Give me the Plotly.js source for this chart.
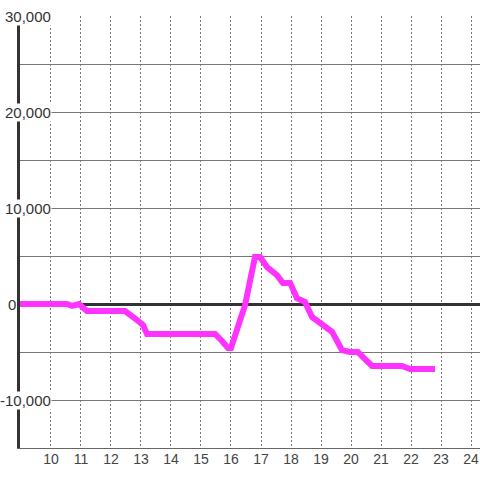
<!DOCTYPE html>
<html>
<head>
<meta charset="utf-8">
<script src="https://cdn.plot.ly/plotly-3.0.1.min.js"></script>
<style>html,body{margin:0;padding:0;background:#fff;}#chart{width:480px;height:480px;}</style>
</head>
<body>
<div id="chart"></div>
<script>
// Hours of day (decimal) and cumulative values
const hours = [8.9, 10.53, 10.7, 10.93, 11.2, 12.47, 12.87, 13.07, 13.2, 15.47, 15.7, 15.9, 16.0, 16.47, 16.8, 16.97, 17.2, 17.53, 17.73, 17.97, 18.2, 18.47, 18.7, 18.97, 19.37, 19.7, 19.97, 20.23, 20.7, 21.7, 21.97, 22.8];
const values = [0, 0, -200, 0, -730, -730, -1670, -2200, -3125, -3125, -3850, -4580, -4580, -100, 4900, 4900, 3850, 3000, 2200, 2200, 600, 200, -1350, -2000, -2900, -4800, -5000, -5000, -6450, -6450, -6770, -6770];
const xTickVals = [10, 11, 12, 13, 14, 15, 16, 17, 18, 19, 20, 21, 22, 23, 24];
const yLabelVals = [30000, 20000, 10000, 0, -10000];
const yLabelText = ['30,000', '20,000', '10,000', '0', '-10,000'];

const trace = {
  x: hours, y: values, type: 'scatter', mode: 'lines',
  line: {color: '#ff33ff', width: 6},
  hoverinfo: 'skip'
};

// plot area starts at 20px, width 460px
const px = p => (p - 20) / 460;
const annotations = yLabelVals.map((v, i) => {
  const isZero = yLabelText[i] === '0';
  return {
    xref: 'paper', yref: 'y',
    x: isZero ? px(7) : px(52), y: v,
    xanchor: isZero ? 'left' : 'right', yanchor: 'middle',
    text: yLabelText[i], showarrow: false,
    bgcolor: isZero ? 'rgba(0,0,0,0)' : '#ffffff', borderpad: 0,
    font: {family: 'Liberation Sans, Arial, sans-serif', size: 15, color: '#333'}
  };
});

const layout = {
  width: 480, height: 480,
  margin: {l: 20, r: 0, t: 16, b: 32, pad: 0},
  paper_bgcolor: '#ffffff', plot_bgcolor: '#ffffff',
  showlegend: false,
  xaxis: {
    range: [8.967, 24.3],
    tickvals: xTickVals, ticktext: xTickVals.map(String),
    showgrid: true, gridcolor: '#777', griddash: '2px,2px', gridwidth: 1,
    zeroline: false, showline: true, linecolor: '#666', linewidth: 1,
    ticks: '', ticklabelstandoff: -2,
    tickfont: {family: 'Liberation Sans, Arial, sans-serif', size: 14, color: '#444'},
    fixedrange: true
  },
  yaxis: {
    range: [-15000, 30000],
    dtick: 5000, tick0: 0,
    showgrid: true, gridcolor: '#777', gridwidth: 1,
    zeroline: true, zerolinecolor: '#333', zerolinewidth: 3,
    showline: true, linecolor: '#333', linewidth: 3,
    showticklabels: false, ticks: '',
    fixedrange: true
  },
  annotations: annotations
};

Plotly.newPlot('chart', [trace], layout, {displayModeBar: false, staticPlot: true});
</script>
</body>
</html>
